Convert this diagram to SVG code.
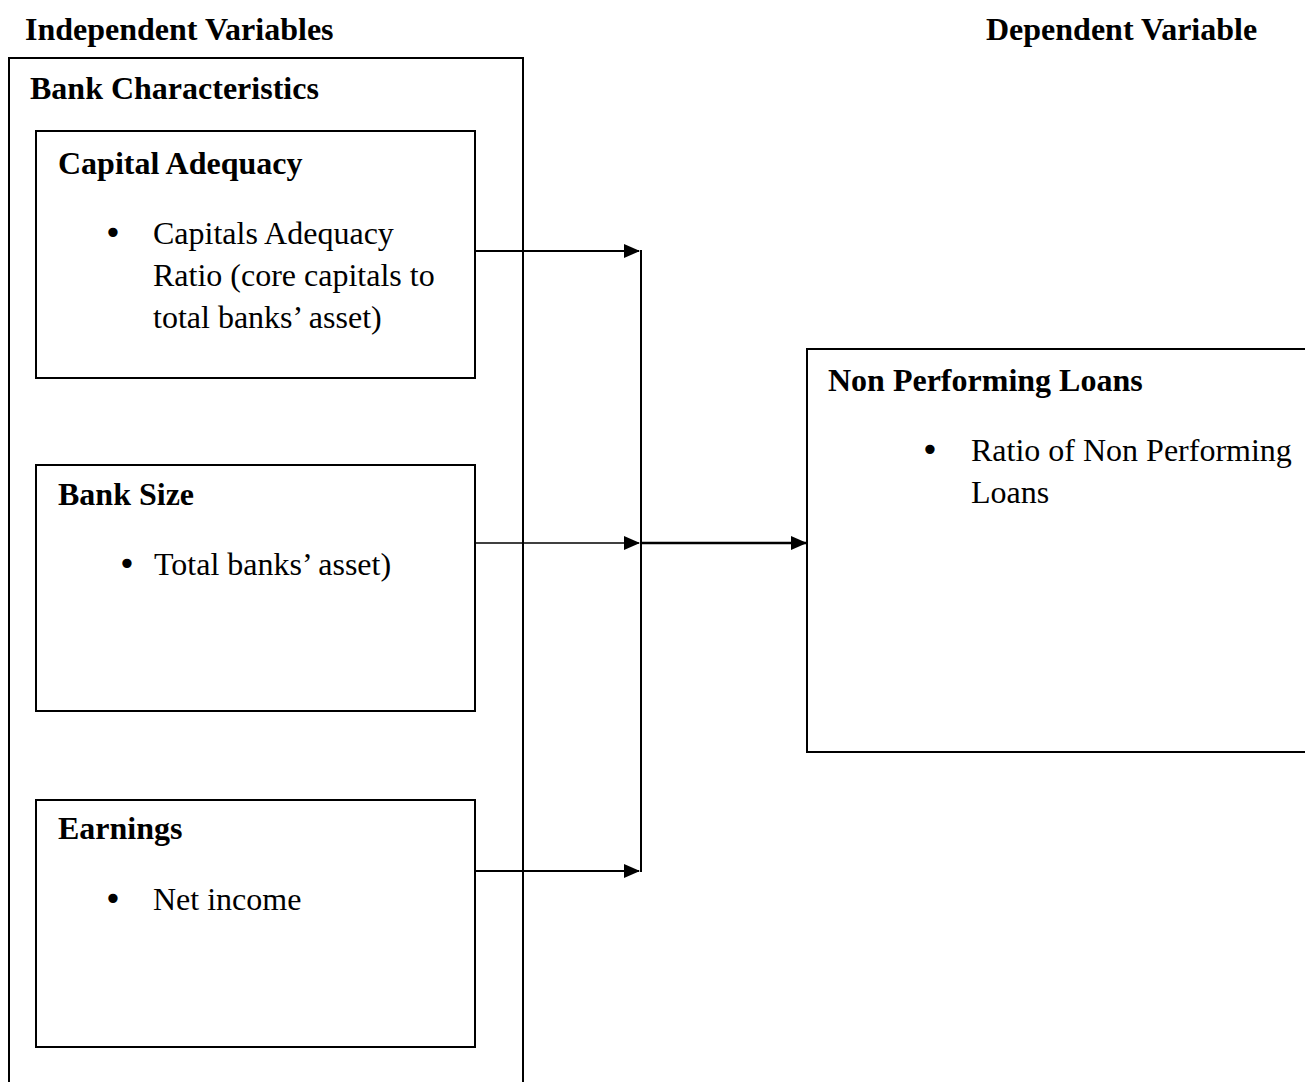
<svg xmlns="http://www.w3.org/2000/svg" width="1305" height="1082" viewBox="0 0 1305 1082">
<defs>
<style>
.b{font-family:"Liberation Serif","Times New Roman",serif;font-weight:bold;font-size:32px;fill:#000}
.t{font-family:"Liberation Serif","Times New Roman",serif;font-size:32px;fill:#000}
.bu{font-family:"DejaVu Sans",sans-serif;font-size:32px;fill:#000;text-anchor:middle}
.box{fill:none;stroke:#000;stroke-width:2}
.ln{fill:none;stroke:#000;stroke-width:2}
</style>
<marker id="ah" markerWidth="16" markerHeight="14" refX="15" refY="7" orient="auto" markerUnits="userSpaceOnUse">
<path d="M0,0 L16,7 L0,14 Z" fill="#000"/>
</marker>
</defs>
<rect width="1305" height="1082" fill="#fff"/>
<text class="b" x="25" y="40">Independent Variables</text>
<text class="b" x="986" y="40">Dependent Variable</text>
<g id="bank-characteristics">
<path class="box" d="M9,1082 V58 H523 V1082"/>
<text class="b" x="30" y="99">Bank Characteristics</text>
</g>
<g id="capital-adequacy">
<rect class="box" x="36" y="131" width="439" height="247"/>
<text class="b" x="58" y="174">Capital Adequacy</text>
<text class="bu" x="113" y="244">•</text>
<text class="t" x="153" y="244">Capitals Adequacy</text>
<text class="t" x="153" y="286">Ratio (core capitals to</text>
<text class="t" x="153" y="328">total banks’ asset)</text>
</g>
<g id="bank-size">
<rect class="box" x="36" y="465" width="439" height="246"/>
<text class="b" x="58" y="505">Bank Size</text>
<text class="bu" x="127" y="575">•</text>
<text class="t" x="154" y="575">Total banks’ asset)</text>
</g>
<g id="earnings">
<rect class="box" x="36" y="800" width="439" height="247"/>
<text class="b" x="58" y="839">Earnings</text>
<text class="bu" x="113" y="910">•</text>
<text class="t" x="153" y="910">Net income</text>
</g>
<g id="npl">
<path class="box" d="M1305,349 H807 V752 H1305"/>
<text class="b" x="828" y="391">Non Performing Loans</text>
<text class="bu" x="930" y="461">•</text>
<text class="t" x="971" y="461">Ratio of Non Performing</text>
<text class="t" x="971" y="503">Loans</text>
</g>
<g id="connectors">
<line class="ln" x1="475" y1="251" x2="639" y2="251" marker-end="url(#ah)"/>
<line class="ln" x1="475" y1="543" x2="639" y2="543" marker-end="url(#ah)" style="stroke-width:1.5"/>
<line class="ln" x1="475" y1="871" x2="639" y2="871" marker-end="url(#ah)"/>
<line class="ln" x1="641" y1="250" x2="641" y2="872"/>
<line class="ln" x1="641" y1="543" x2="806" y2="543" marker-end="url(#ah)" style="stroke-width:2.5"/>
</g>
</svg>
